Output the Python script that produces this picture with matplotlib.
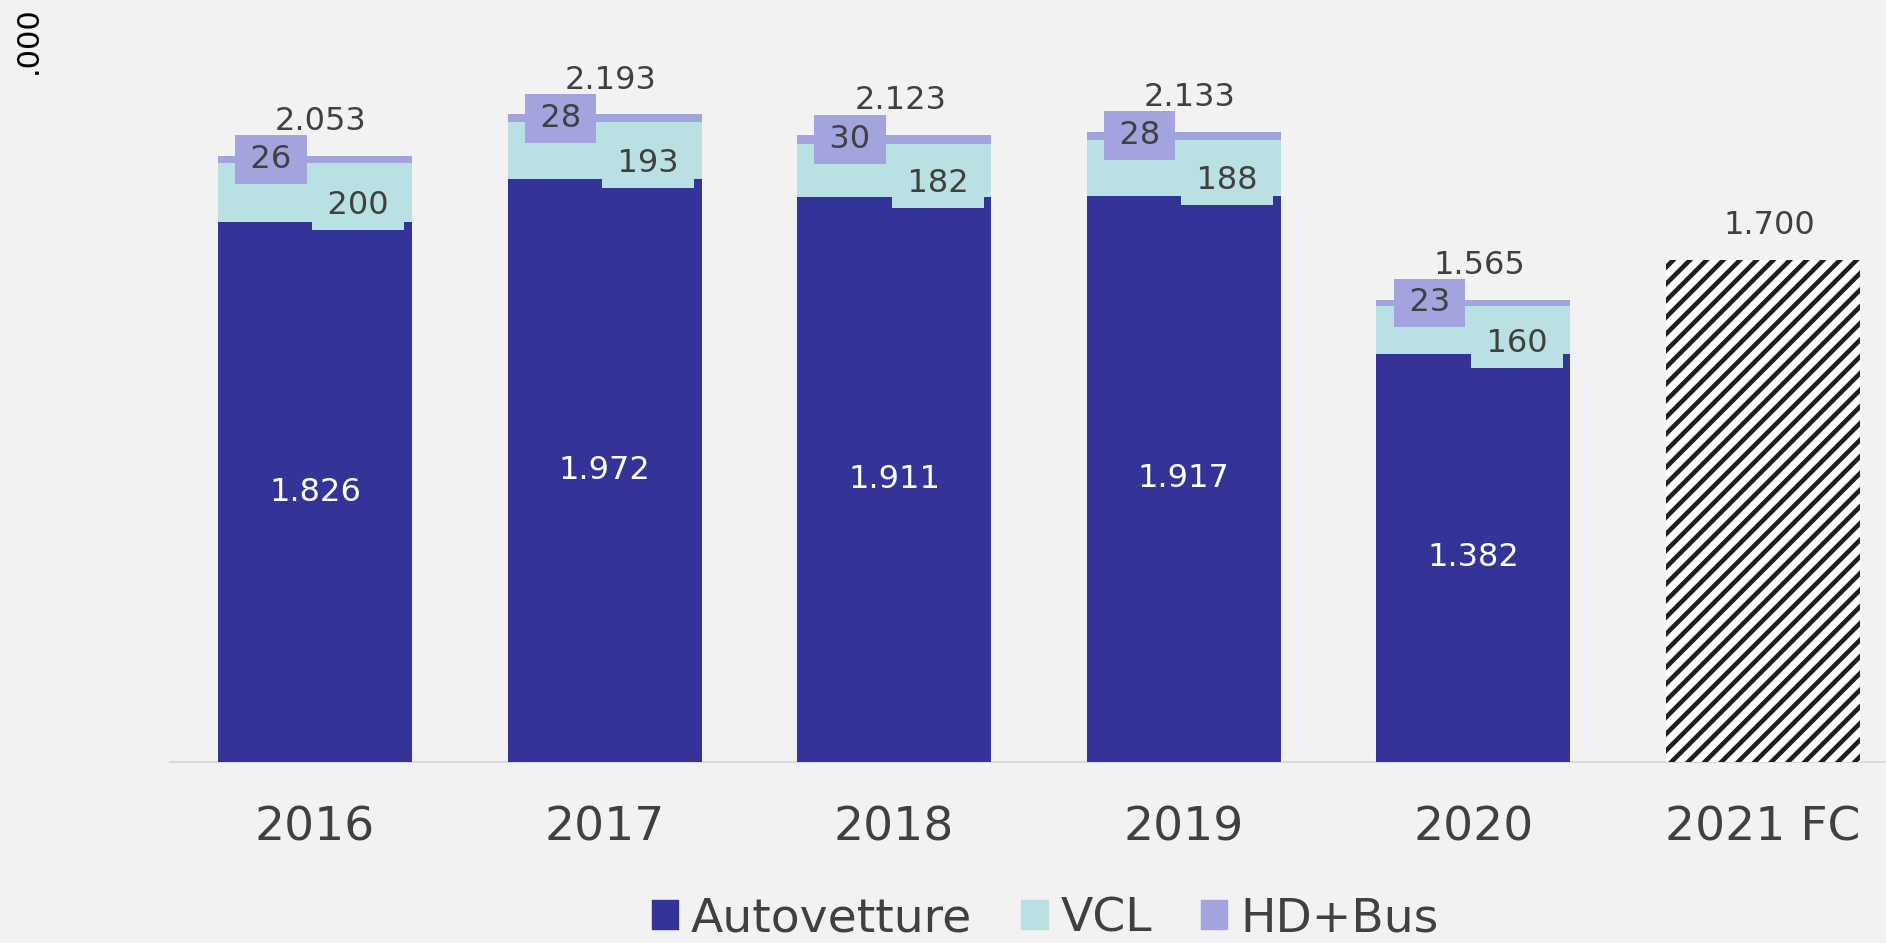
import matplotlib
matplotlib.use("Agg")
import matplotlib.pyplot as plt
from matplotlib.patches import Patch
import numpy as np

# ---- data ----
categories = ["2016", "2017", "2018", "2019", "2020", "2021 FC"]
autovetture = [1826, 1972, 1911, 1917, 1382]
vcl = [200, 193, 182, 188, 160]
hd_bus = [26, 28, 30, 28, 23]
totals = [2053, 2193, 2123, 2133, 1565]
forecast_2021 = 1700
series_names = ["Autovetture", "VCL", "HD+Bus"]
unit_label = ".000"

# ---- style ----
C_AUTO = "#343397"
C_VCL = "#B9E0E3"
C_HD = "#A3A3DE"
BG = "#F2F2F2"
TXT = "#404040"

plt.rcParams["font.family"] = ["DejaVu Sans"]
plt.rcParams["hatch.linewidth"] = 3.3
plt.rcParams["hatch.color"] = "#1f1f1f"

W, H = 1886, 943
fig = plt.figure(figsize=(W / 100, H / 100), dpi=100, facecolor=BG)
ax = fig.add_axes([170 / W, 181 / H, (W - 170) / W, 762 / H])
ax.set_facecolor(BG)

x = np.arange(len(categories))
xs = x[:5]
bw = 0.67

auto = np.array(autovetture)
v = np.array(vcl)
hd = np.array(hd_bus)

ax.bar(xs, auto, bw, color=C_AUTO, zorder=2)
ax.bar(xs, v, bw, bottom=auto, color=C_VCL, zorder=2)
ax.bar(xs, hd, bw, bottom=auto + v, color=C_HD, zorder=2)
ax.bar(x[5], forecast_2021, bw, facecolor="white", edgecolor="#1f1f1f",
       linewidth=0, hatch="//", zorder=2)

ax.set_xlim(-0.5007, 5.425)
ax.set_ylim(0, 2579)

fs = 23
thin = "\u2009"
for i in range(5):
    # Autovetture label
    ax.text(xs[i], auto[i] / 2, f"{auto[i]/1000:.3f}", ha="center", va="center",
            color="white", fontsize=fs, zorder=5)
    # VCL label
    ax.annotate(f"{thin}{v[i]}{thin}", (xs[i] + 0.15, auto[i] + v[i] / 2),
                xytext=(0, -9.4), textcoords="offset points",
                ha="center", va="center", color=TXT, fontsize=fs, zorder=4,
                bbox=dict(boxstyle="square,pad=0.28", fc=C_VCL, ec="none"))
    # HD label
    ax.annotate(f"{thin}{hd[i]}{thin}", (xs[i] - 0.152, auto[i] + v[i] + hd[i] / 2),
                xytext=(0, 0), textcoords="offset points",
                ha="center", va="center", color=TXT, fontsize=fs, zorder=4,
                bbox=dict(boxstyle="square,pad=0.28", fc=C_HD, ec="none"))
    # total label
    ax.annotate(f"{totals[i]/1000:.3f}", (xs[i], auto[i] + v[i] + hd[i]),
                xytext=(4.3, 24.5), textcoords="offset points",
                ha="center", va="center", color=TXT, fontsize=fs, zorder=6)

ax.annotate(f"{forecast_2021/1000:.3f}", (x[5], forecast_2021),
            xytext=(4.3, 24.5), textcoords="offset points",
            ha="center", va="center", color=TXT, fontsize=fs, zorder=6)

ax.set_xticks(x)
ax.set_xticklabels(categories, fontsize=34, color=TXT)
ax.tick_params(axis="x", length=0, pad=31)
ax.set_yticks([])
for s in ["top", "right", "left"]:
    ax.spines[s].set_visible(False)
ax.spines["bottom"].set_color("#D9D9D9")
ax.spines["bottom"].set_linewidth(1.5)
ax.spines["bottom"].set_zorder(1)

fig.text(28.5 / W, 1 - 40 / H, unit_label, rotation=90, ha="center", va="center",
         fontsize=22, color="black")

handles = [Patch(color=C_AUTO), Patch(color=C_VCL), Patch(color=C_HD)]
fig.legend(handles, series_names, loc="center", bbox_to_anchor=(1045 / W, 1 - 919 / H),
           ncol=3, frameon=False, fontsize=34, handlelength=0.56, handleheight=0.56,
           handletextpad=0.27, columnspacing=1.04, borderaxespad=0, borderpad=0,
           labelcolor=TXT)

fig.savefig("out.png", dpi=100, facecolor=BG)
